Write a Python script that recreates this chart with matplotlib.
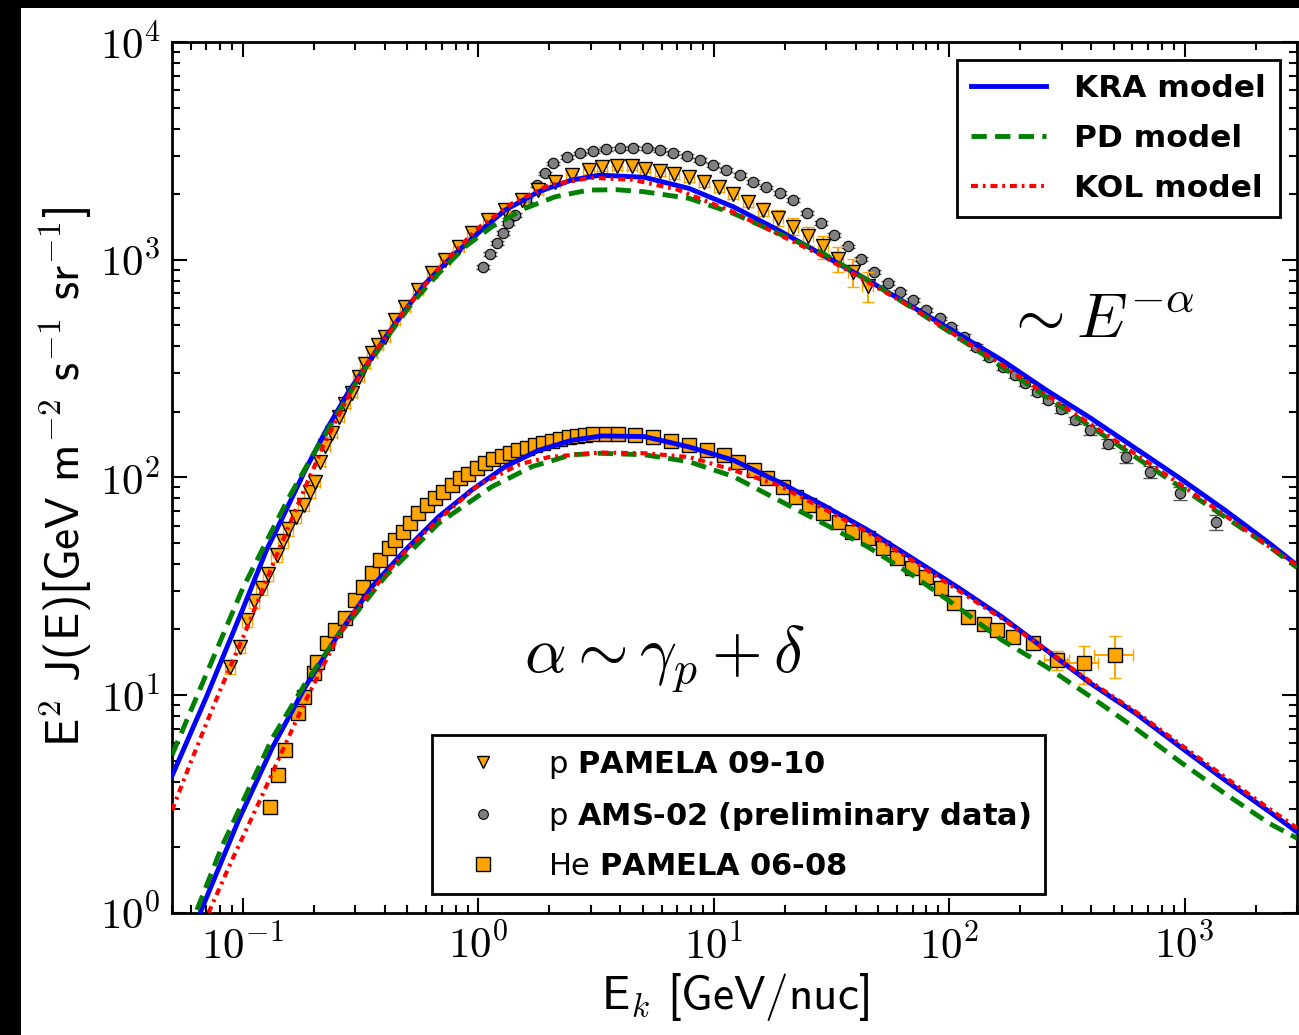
import numpy as np
import matplotlib
matplotlib.use("Agg")
import matplotlib.pyplot as plt
from matplotlib.patches import Rectangle
from matplotlib.lines import Line2D
from matplotlib.ticker import FuncFormatter

# ---- model curves: kinetic energy [GeV/nuc] and E^2 J(E) ----
p_kra_E = [0.05, 0.07, 0.1, 0.126, 0.146, 0.184, 0.224, 0.281, 0.353, 0.416, 0.489, 0.594,
           0.771, 1.03, 1.30, 1.80, 2.49, 3.28, 5.07, 7.85, 12.1, 18.8, 29.1, 45.0, 69.7,
           108, 167, 258, 399, 618, 955, 1480, 2290, 3000]
p_kra_J = [4.25, 9.8, 24.9, 46.4, 64, 108, 162, 247, 356, 462, 585, 775,
           1030, 1367, 1690, 2051, 2321, 2445, 2390, 2125, 1750, 1367, 1050, 806, 608,
           459, 346, 252, 187, 136, 99, 70.8, 49.8, 39.5]

p_pd_E = [0.05, 0.07, 0.1, 0.125, 0.156, 0.196, 0.255, 0.310, 0.402, 0.522, 0.678, 0.879,
          1.14, 1.58, 2.12, 2.94, 3.9, 5.07, 7.85, 12.1, 18.8, 29.1, 45.0, 69.7, 108, 167,
          258, 399, 618, 955, 1480, 2290, 3000]
p_pd_J = [5.3, 12.5, 31, 50, 80, 124, 200, 285, 428, 630, 865, 1146,
          1416, 1721, 1945, 2089, 2095, 2051, 1913, 1632, 1321, 1069, 806, 600, 442, 322,
          235, 171, 124, 90.5, 65.9, 48, 38.5]

p_kol_E = [0.05, 0.06, 0.07, 0.08, 0.09, 0.1, 0.115, 0.133, 0.155, 0.184, 0.22, 0.25, 0.3,
           0.35, 0.5, 0.7, 1.0, 1.4, 2.0, 3.0, 4.5, 7.0, 12.0, 19.0, 29.0, 45.0, 70.0, 108,
           167, 258, 400, 618, 955, 1480, 2290, 3000]
p_kol_J = [2.95, 4.9, 7.4, 10.5, 14.1, 18.3, 26.5, 39, 58, 90, 140, 185, 270,
           355, 610, 950, 1400, 1820, 2200, 2380, 2330, 2100, 1660, 1300, 1040, 790, 600, 445,
           330, 240, 175, 128, 93, 67, 48, 39.5]

he_kra_E = [0.0659, 0.096, 0.133, 0.184, 0.255, 0.353, 0.489, 0.678, 0.938, 1.30, 1.80, 2.49,
            3.35, 5.07, 7.85, 12.1, 18.8, 29.1, 45.0, 69.7, 108, 167, 258, 399, 618, 955,
            1480, 2290, 3000]
he_kra_J = [1.0, 2.67, 5.7, 10.9, 19.0, 31.4, 46.3, 65.9, 87.5, 112, 133, 148,
            155, 154, 138, 120, 95.5, 74.6, 57.3, 42.5, 31.4, 22.9, 16.1, 11.3, 8.24, 5.79,
            4.07, 2.91, 2.35]

he_pd_E = [0.0638, 0.0814, 0.133, 0.184, 0.255, 0.3, 0.402, 0.678, 1.14, 1.69, 2.49, 3.28,
           5.07, 7.85, 12.1, 18.8, 29.1, 45.0, 69.7, 108, 167, 258, 399, 618, 955, 1480,
           2290, 3000]
he_pd_J = [1.03, 2.01, 6.3, 11.3, 19.0, 23.5, 35.0, 61.5, 90.5, 112, 127, 129,
           127, 118, 101, 78.7, 61.5, 48.0, 35.6, 25.5, 17.9, 13.5, 9.82, 7.03, 4.94, 3.53,
           2.57, 2.2]

he_kol_E = [0.0715, 0.09, 0.106, 0.125, 0.151, 0.18, 0.2, 0.25, 0.3, 0.5, 0.7, 1.0, 1.5, 2.0,
            3.3, 5.07, 7.85, 12.1, 18.8, 29.1, 45.0, 69.7, 108, 167, 258, 399, 618, 955, 1480,
            2290, 3000]
he_kol_J = [1.0, 1.75, 2.55, 3.75, 5.9, 8.9, 11.2, 18, 24.5, 47, 66, 92, 115, 124,
            130, 129, 124, 108, 92, 72, 56, 41.5, 30.5, 22.5, 16.1, 11.5, 8.4, 5.95, 4.2,
            3.0, 2.45]

# ---- data ----
p_pam_E = [0.088, 0.097, 0.104, 0.112, 0.120, 0.128, 0.139, 0.148, 0.156, 0.168, 0.181, 0.192,
           0.203, 0.213, 0.224, 0.240, 0.255, 0.272, 0.290, 0.310, 0.331, 0.353, 0.376, 0.402,
           0.443, 0.489, 0.557, 0.635, 0.723, 0.824, 0.938, 1.10, 1.30, 1.53, 1.80, 2.12,
           2.49, 2.94, 3.35, 3.9, 4.5, 5.1, 5.9, 6.8, 7.85, 9.1, 10.5, 12.1, 14.0, 16.2,
           18.8, 21.8, 25.2, 29.1, 33.7, 39.0, 45.0]
p_pam_J = [13.5, 16.7, 22.1, 27, 31, 36, 44, 51, 58, 66, 75, 86,
           95, 118, 140, 160, 190, 218, 243, 290, 330, 371, 405, 443,
           528, 608, 725, 865, 995, 1146, 1321, 1521, 1690, 1879, 2089, 2278,
           2447, 2580, 2672, 2690, 2680, 2620, 2560, 2480, 2400, 2280, 2150, 2000, 1850, 1700,
           1560, 1420, 1280, 1150, 1010, 880, 760]
p_pam_yerr = [0.07] * 12 + [0.04] * 30 + [0.05] * 6 + [0.06, 0.07, 0.08, 0.09, 0.10, 0.12, 0.13,
                                                      0.15, 0.16]
p_pam_xerr = 0.05

ams_E = [1.05, 1.12, 1.20, 1.27, 1.34, 1.43, 1.60, 1.77, 1.92, 2.08, 2.37, 2.70, 3.07, 3.50,
         3.99, 4.54, 5.18, 5.90, 6.71, 7.66, 8.72, 9.93, 11.3, 12.9, 14.7, 16.7, 19.1, 21.7,
         25.0, 28.5, 32.5, 37.0, 42.0, 48.0, 55.0, 61.6, 70.2, 80.0, 91.1, 102, 116, 130,
         148, 169, 190, 209, 235, 263, 299, 341, 395, 473, 565, 710, 952, 1363]
ams_J = [927, 1062, 1196, 1330, 1469, 1603, 1879, 2202, 2490, 2769, 2971, 3078, 3166, 3212,
         3244, 3266, 3244, 3186, 3098, 2992, 2870, 2723, 2583, 2447, 2280, 2148, 2017, 1879,
         1640, 1470, 1300, 1150, 1010, 880, 780, 710, 653, 587, 537, 492, 443, 398,
         358, 322, 295, 270, 247, 226, 205, 183, 165, 143, 124, 106, 84.5, 62.5]
ams_yerr = [0.02] * 40 + [0.03] * 8 + [0.04, 0.04, 0.05, 0.05, 0.06, 0.06, 0.07, 0.08]

he_pam_E = [0.131, 0.141, 0.151, 0.171, 0.181, 0.200, 0.206, 0.227, 0.247, 0.272, 0.300, 0.325,
            0.353, 0.383, 0.416, 0.443, 0.481, 0.513, 0.557, 0.604, 0.656, 0.711, 0.771, 0.837,
            0.908, 0.986, 1.07, 1.16, 1.26, 1.36, 1.48, 1.61, 1.74, 1.89, 2.05, 2.22,
            2.42, 2.62, 2.84, 3.08, 3.5, 3.91, 4.65, 5.54, 6.59, 7.85, 9.35, 11.1, 12.7,
            14.8, 16.9, 19.6, 22.4, 25.5, 29.1, 33.9, 38.6, 45.0, 52.4, 59.8, 69.7, 79.4,
            92.5, 105, 120, 140, 160, 186, 226, 288, 374, 507]
he_pam_J = [3.07, 4.29, 5.59, 8.24, 9.82, 12.6, 14.2, 17.3, 19.9, 22.5, 27.3, 31.5,
            36.2, 41.7, 47.2, 51.5, 56.2, 61.5, 68.4, 74.6, 80, 85.9, 92.2, 98.9,
            104, 110, 116, 121, 125, 130, 133, 137, 141, 144, 147, 150,
            153, 155, 156, 158, 159, 158, 156, 153, 147, 141, 133, 127, 118,
            108, 98.9, 90.5, 81.5, 74.6, 68.4, 62.5, 56.2, 52.5, 47.2, 42.5, 38.2, 34.9,
            30.9, 26.4, 22.9, 21.3, 19.9, 18.5, 17.3, 14.5, 14.0, 15.3]
he_pam_yerr = [0.03] * 69 + [0.10, 0.20, 0.22]
he_pam_xerr = [0.05] * 69 + [0.12, 0.15, 0.19]

plt.rcParams['mathtext.fontset'] = 'cm'
plt.rcParams['mathtext.bf'] = 'DejaVu Sans:bold'
plt.rcParams['mathtext.rm'] = 'DejaVu Sans'
plt.rcParams['lines.scale_dashes'] = False

W, H = 1299, 1035
fig = plt.figure(figsize=(W / 100, H / 100), dpi=100)
fig.patch.set_facecolor('black')
fig.add_artist(Rectangle((21 / W, 0), 1, 1 - 8 / H, transform=fig.transFigure,
                         facecolor='white', edgecolor='none', zorder=-10))
ax = fig.add_axes([172 / W, 1 - 912.7 / H, 1125 / W, 870.7 / H])

ORANGE = '#ffa500'

# AMS-02 protons
E = np.array(ams_E)
J = np.array(ams_J)
ax.errorbar(E, J, yerr=J * np.array(ams_yerr), fmt='none', ecolor='#555555',
            elinewidth=1.2, capsize=5, zorder=2)
ax.plot(E, J, 'o', ms=7.5, mfc='#808080', mec='black', mew=0.8, zorder=2.5)

# PAMELA protons
E = np.array(p_pam_E)
J = np.array(p_pam_J)
ax.errorbar(E, J, yerr=J * np.array(p_pam_yerr), xerr=E * p_pam_xerr, fmt='none',
            ecolor=ORANGE, elinewidth=1.5, capsize=4, zorder=3)
ax.plot(E, J, 'v', ms=10, mfc=ORANGE, mec='black', mew=1, zorder=3.5)

# PAMELA helium
E = np.array(he_pam_E)
J = np.array(he_pam_J)
ax.errorbar(E, J, yerr=J * np.array(he_pam_yerr), xerr=E * np.array(he_pam_xerr),
            fmt='none', ecolor=ORANGE, elinewidth=1.5, capsize=4, zorder=3)
ax.plot(E, J, 's', ms=10, mfc=ORANGE, mec='black', mew=1, zorder=3.5)

# models
kra, = ax.plot(p_kra_E, p_kra_J, color='#0000ff', lw=3.5, zorder=5, label='KRA model')
ax.plot(he_kra_E, he_kra_J, color='#0000ff', lw=3.5, zorder=5)
pd, = ax.plot(p_pd_E, p_pd_J, color='#008000', lw=3.5, dashes=(11, 6), zorder=6,
              label='PD model')
ax.plot(he_pd_E, he_pd_J, color='#008000', lw=3.5, dashes=(11, 6), zorder=6)
kol, = ax.plot(p_kol_E, p_kol_J, color='#ff0000', lw=3, dashes=(5, 3.5, 2, 3.5), zorder=7,
               label='KOL model')
ax.plot(he_kol_E, he_kol_J, color='#ff0000', lw=3, dashes=(5, 3.5, 2, 3.5), zorder=7)

ax.set_xscale('log')
ax.set_yscale('log')
ax.set_xlim(0.05, 3000)
ax.set_ylim(1, 1e4)

decade = FuncFormatter(lambda v, pos: r'$10^{%d}$' % round(np.log10(v)))
ax.xaxis.set_major_formatter(decade)
ax.yaxis.set_major_formatter(decade)

ax.tick_params(which='both', direction='in', top=True, right=True, width=1.5)
ax.tick_params(which='major', length=11, labelsize=31)
ax.tick_params(axis='x', which='major', pad=9)
ax.tick_params(axis='y', which='major', pad=8)
ax.tick_params(which='minor', length=5.5)
for s in ax.spines.values():
    s.set_linewidth(2)

ax.set_xlabel(r'E$_k$ [GeV/nuc]', family='cmss10', size=34, labelpad=2)
ax.set_ylabel(r'E$^2$ J(E)[GeV m$^{-2}$ s$^{-1}$ sr$^{-1}$]', family='cmss10', size=34,
              labelpad=4)

ax.text(0.740, 0.66, r'$\sim E^{-\alpha}$', transform=ax.transAxes, size=46,
        ha='left', va='baseline')
ax.text(0.3125, 0.2753, r'$\alpha \sim \gamma_p + \delta$', transform=ax.transAxes,
        size=47, ha='left', va='baseline')

leg1 = ax.legend(handles=[kra, pd, kol], loc='upper right', bbox_to_anchor=(0.9849, 0.9793),
                 borderaxespad=0, fancybox=False, framealpha=1, edgecolor='black',
                 prop={'family': 'DejaVu Sans', 'weight': 'bold', 'size': 22.5},
                 handlelength=2.4, handletextpad=0.9, labelspacing=0.67, borderpad=0.45)
leg1.get_frame().set_linewidth(2)
ax.add_artist(leg1)

h_tri = Line2D([], [], ls='none', marker='v', ms=9, mfc=ORANGE, mec='black', mew=1)
h_dot = Line2D([], [], ls='none', marker='o', ms=7, mfc='#808080', mec='black', mew=0.8)
h_sq = Line2D([], [], ls='none', marker='s', ms=9.5, mfc=ORANGE, mec='black', mew=1)
leg2 = ax.legend(handles=[h_tri, h_dot, h_sq],
                 labels=['p $\\mathbf{PAMELA\\ 09\u201010}$',
                         'p $\\mathbf{AMS\u201002\\ (preliminary\\ data)}$',
                         'He $\\mathbf{PAMELA\\ 06\u201008}$'],
                 loc='upper left', bbox_to_anchor=(0.2311, 0.2041), borderaxespad=0,
                 fancybox=False, framealpha=1, edgecolor='black',
                 prop={'family': 'DejaVu Sans', 'size': 22}, numpoints=1,
                 handlelength=2.45, handletextpad=0.9, labelspacing=0.62, borderpad=0.45)
leg2.get_frame().set_linewidth(2)
for t in leg2.get_texts():
    t.set_math_fontfamily('custom')

fig.savefig('out.png', dpi=100, facecolor=fig.get_facecolor())
